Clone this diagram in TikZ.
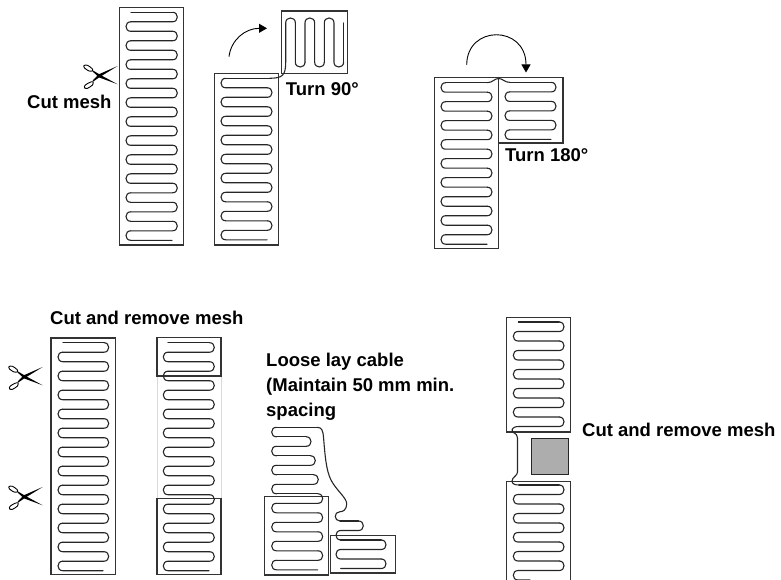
\documentclass[tikz,border=0pt]{standalone}
\usepackage{fontspec}
\setmainfont{Liberation Sans}
\usetikzlibrary{arrows.meta,positioning}

\def\rowgap{9.5}
% xleft, xright, first row y, number of turns, x of first row start, x of last row end
\newcommand{\meander}[6]{%
	\pgfmathtruncatemacro{\firstside}{(#5)<((#1+#2)/2)}
	\foreach \i in {1,...,#4}{
		\pgfmathsetmacro{\ya}{#3+(\i-1)*\rowgap}
		\pgfmathsetmacro{\yb}{\ya+\rowgap}
		\pgfmathtruncatemacro{\side}{mod(\i+\firstside,2)}
		\ifnum\side=0
			\pgfmathsetmacro{\rowend}{\i==#4 ? #6 : #1+\rowgap/2}
			\draw[cable] (#2-\rowgap/2,\ya) .. controls (#2+\rowgap/6,\ya) and (#2+\rowgap/6,\yb) .. (#2-\rowgap/2,\yb) -- (\rowend,\yb);
		\else
			\pgfmathsetmacro{\rowend}{\i==#4 ? #6 : #2-\rowgap/2}
			\draw[cable] (#1+\rowgap/2,\ya) .. controls (#1-\rowgap/6,\ya) and (#1-\rowgap/6,\yb) .. (#1+\rowgap/2,\yb) -- (\rowend,\yb);
		\fi
	}
	\ifnum\firstside=1
		\draw[cable] (#5,#3) -- (#2-\rowgap/2,#3);
	\else
		\draw[cable] (#5,#3) -- (#1+\rowgap/2,#3);
	\fi
}
% shift from the first pair of scissors
\newcommand{\scissors}[2]{%
	\begin{scope}[shift={(#1,#2)}]
		\fill[black] (117.7,66) -- (98.5,74.4) -- (92.5,80.8) -- (93.2,81.6) -- (99.5,77.2) -- cycle;
		\fill[black] (117.7,84.3) -- (99,77.4) -- (92.5,71.4) -- (93.2,70.6) -- (100,74.7) -- cycle;
		\draw[line width=0.9pt] plot[smooth cycle] coordinates {(84,65.5) (87.5,65.3) (92,68.5) (92.5,70.8) (89,71) (84.5,68)};
		\draw[line width=0.9pt] plot[smooth cycle] coordinates {(84.7,88) (85,85.3) (90,82.3) (93,81.8) (92.5,85) (87.5,88.3)};
	\end{scope}
}

\begin{document}
\begin{tikzpicture}[
	x=1pt,y=-1pt,
	cable/.style={line width=1.1pt,line cap=round,black!85},
	mesh/.style={draw=black!80,line width=1.1pt},
	ghost/.style={draw=black!15,line width=1pt},
	label/.style={font=\bfseries\fontsize{18.5}{24.6}\selectfont,inner sep=0pt,anchor=base west,align=left},
	turnarrow/.style={-{Stealth[length=8pt,width=9pt,inset=0pt]},line width=0.9pt}
	]
	\useasboundingbox (0,0) rectangle (781,580);
	\clip (0,0) rectangle (781,580);

	% first mesh
	\draw[mesh] (119.7,7.7) rectangle (183.7,245);
	\meander{126}{177.3}{12.3}{24}{131}{172}
	\scissors{0}{0}
	\node[label] (cutmesh) at (27,108.3) {Cut mesh};

	% turn 90
	\draw[mesh] (214.3,73.7) rectangle (278.7,245);
	\draw[mesh] (281.3,11) rectangle (347.5,73.7);
	\meander{221}{272}{78.3}{17}{270}{267}
	\draw[cable] (270,78.3) .. controls (282,78) and (285.7,76) .. (285.7,62.2);
	\foreach \xa in {285.7,305,324.3}{
		\draw[cable] (\xa,62.2) -- (\xa,22.8) .. controls (\xa,16.4) and (\xa+9.65,16.4) .. (\xa+9.65,22.8) -- (\xa+9.65,62.2) .. controls (\xa+9.65,68.6) and (\xa+19.3,68.6) .. (\xa+19.3,62.2);
	}
	\draw[cable] (343.6,62.2) -- (343.6,23);
	\coordinate (quarterfrom) at (229,56.7);
	\coordinate (quarterto) at (267,28.3);
	\draw[turnarrow] (quarterfrom) .. controls (231,40) and (245,28.3) .. (quarterto);
	\node[label] (turn90) at (285.7,95.7) {Turn 90°};

	% turn 180
	\draw[mesh] (434.3,77.7) rectangle (498.7,248.7);
	\draw[mesh] (498.7,77.7) rectangle (563,143);
	\meander{441}{492}{82.7}{17}{487}{487}
	\meander{505}{556}{82.4}{6}{510}{551}
	\draw[cable] (487,82.7) .. controls (493,82.7) and (494,78.5) .. (498.7,78.5) .. controls (503,78.5) and (504,82.4) .. (510,82.4);
	\coordinate (halffrom) at (466.7,65);
	\coordinate (halfto) at (526,72.5);
	\draw[turnarrow] (halffrom) .. controls (466.7,24.7) and (526,24.7) .. (halfto);
	\node[label] (turn180) at (505,161.7) {Turn 180°};

	% cut and remove, first step
	\node[label] (cutremove) at (50,324.3) {Cut and remove mesh};
	\draw[mesh] (51,338) rectangle (115.3,574.3);
	\meander{58}{108.7}{342.7}{24}{63}{103}
	\scissors{-75}{301}
	\scissors{-75}{421}

	% cut and remove, second step
	\draw[ghost] (157,376) -- (157,498.7);
	\draw[ghost] (221,376) -- (221,498.7);
	\draw[mesh] (157,337.7) rectangle (221,376);
	\draw[mesh] (157,498.7) rectangle (221,574.3);
	\meander{163.3}{214.3}{342.7}{24}{168}{209}

	% loose lay
	\node[label] (looselay) at (266,416) {Loose lay cable\\(Maintain 50 mm min.\\spacing};
	\draw[mesh] (264.3,496.3) rectangle (328.7,575);
	\draw[mesh] (330.7,535.3) rectangle (395.3,573);
	\meander{271.7}{311}{427.3}{1}{317}{276.5}
	\meander{271.7}{311}{436.8}{2}{276.5}{276.5}
	\meander{271.7}{315.3}{455.8}{2}{276.5}{276.5}
	\meander{271.7}{318.3}{474.8}{2}{276.5}{276.5}
	\meander{271.7}{322.7}{493.8}{8}{276.5}{317.7}
	\draw[cable] (317,427.3) .. controls (322,427.3) and (323,431) .. (323.5,437) .. controls (325,455) and (326,470) .. (331,480) .. controls (336,490) and (347,498) .. (346.7,504) .. controls (346.5,510) and (343,511.7) .. (340,511.7) .. controls (333.7,511.7) and (333.7,521) .. (340,521);
	\meander{336}{363.3}{521}{2}{340}{340.5}
	\meander{336}{386}{540}{3}{340.5}{340.7}

	% cut and remove with patch
	\draw[mesh] (506.3,317.3) rectangle (570.7,432);
	\draw[mesh] (506.3,580.5) -- (506.3,481.3) -- (570.7,481.3) -- (570.7,580.5);
	\meander{513.3}{564}{322}{11}{518.3}{519}
	\draw[cable] (519,426.5) .. controls (511,426.5) and (511,431) .. (513.5,432.5) .. controls (516,434) and (517.5,435) .. (517.5,438) -- (517.5,472) .. controls (517.5,476) and (512,477) .. (512,481) .. controls (512,484) and (515,485) .. (519,485);
	\meander{513.3}{564}{485}{10}{519}{530}
	\node[draw=black!85,fill=black!32,line width=1.1pt,minimum width=37pt,minimum height=36pt,inner sep=0pt] (patch) at (550.1,456.2) {};
	\node[label] (cutremovetwo) at (582,436) {Cut and remove mesh};
\end{tikzpicture}
\end{document}
